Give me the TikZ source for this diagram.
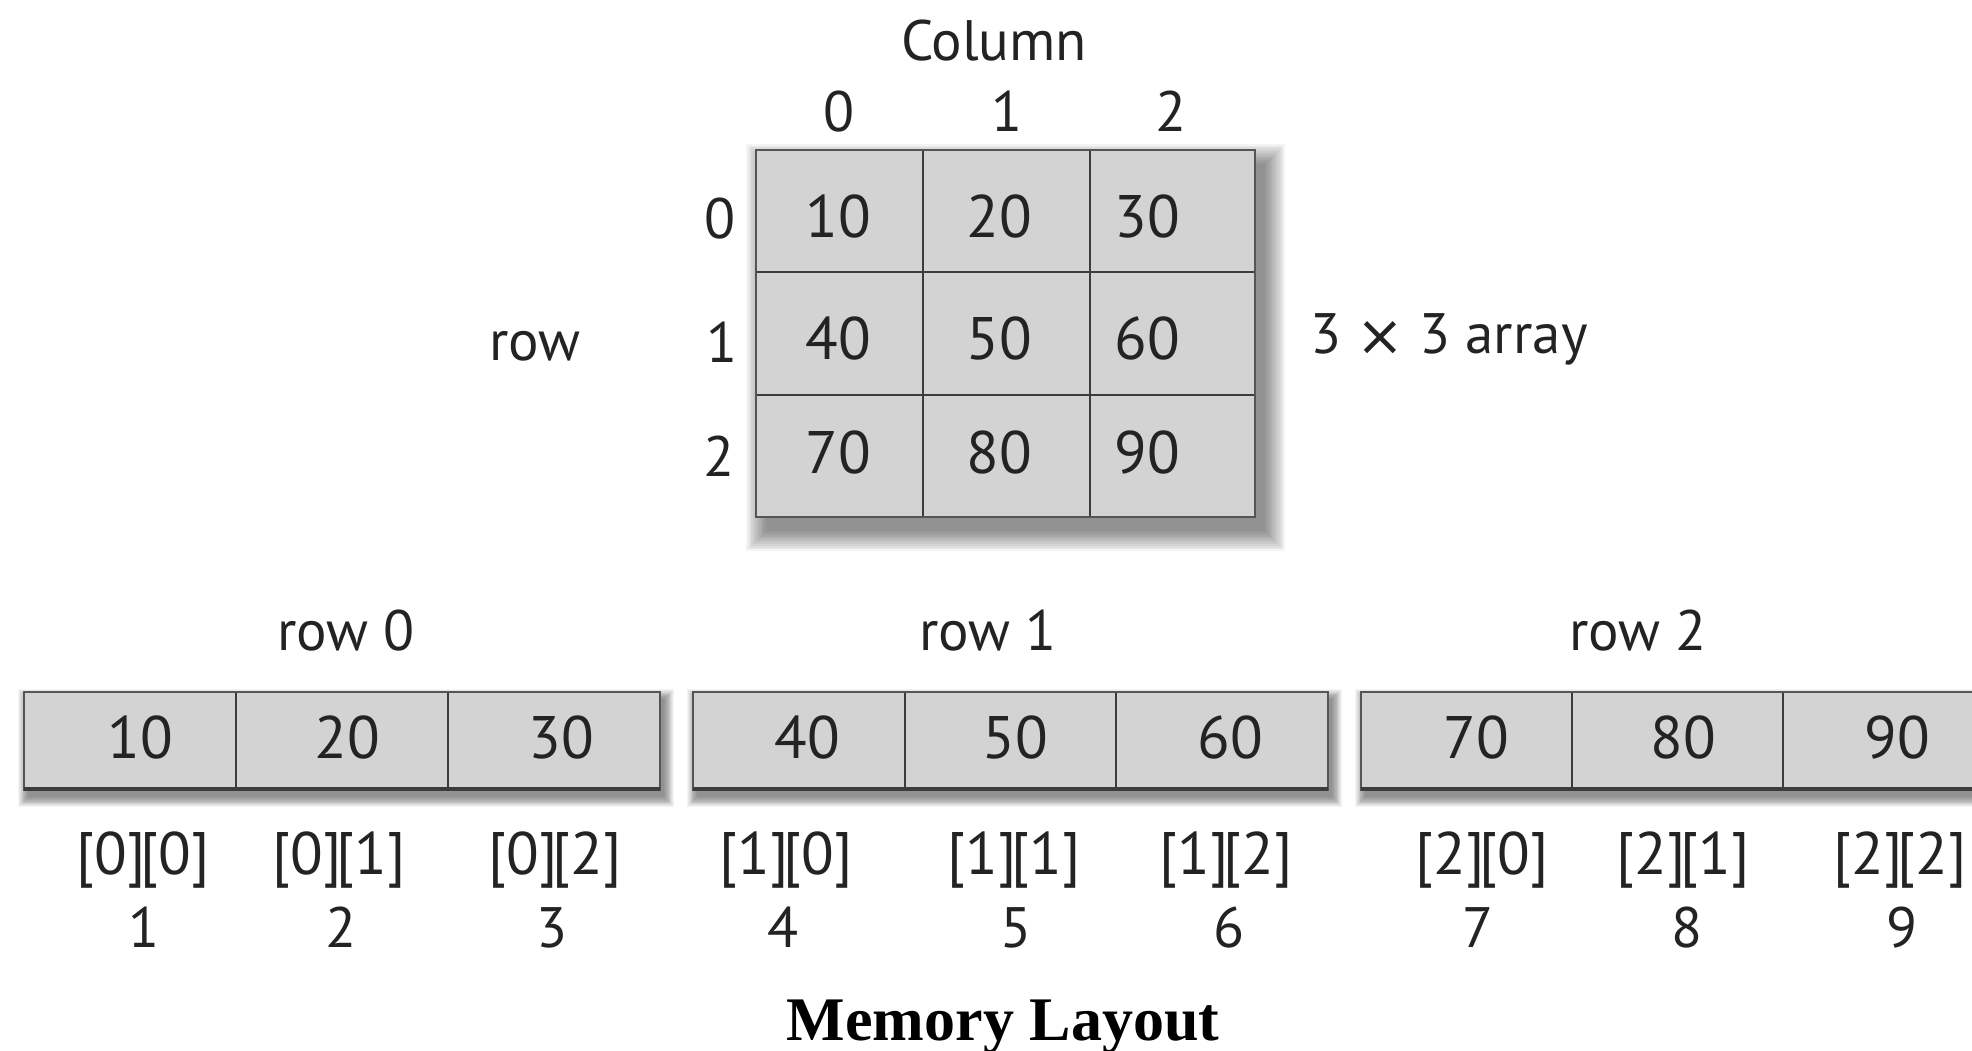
\documentclass[tikz,border=0pt]{standalone}
\usepackage{fontspec}
\setmainfont{PT Sans}
\newfontfamily\capfont{Liberation Serif}
\newfontfamily\symfont{DejaVu Sans}
\definecolor{cellfill}{RGB}{211,211,211}
\definecolor{borderc}{RGB}{85,85,85}
\definecolor{linec}{RGB}{60,60,60}
\definecolor{textc}{RGB}{35,35,35}
\newcommand\softshadow[7]{%
  \foreach \i in {1,...,12}{%
    \pgfmathsetmacro\rr{#7*(1-\i/12)}%
    \fill[black,opacity=0.045] ({#1+#5-\rr},{#2+#6-\rr}) rectangle ({#3+#5+\rr},{#4+#6+\rr});
  }}
\newcommand\ix[2]{[#1]\kern-5pt[#2]}
\begin{document}
\begin{tikzpicture}[x=1pt,y=-1pt,
  lbl/.style={anchor=base,inner sep=0pt,text=textc,font=\fontsize{57}{60}\selectfont},
  val/.style={lbl,font=\fontsize{60}{62}\selectfont},
  idx/.style={lbl,font=\fontsize{60}{62}\selectfont},
  titlecap/.style={anchor=base,inner sep=0pt,text=black,font=\capfont\bfseries\fontsize{62}{64}\selectfont},
  gridline/.style={draw=linec,line width=2pt},
  outerline/.style={draw=borderc,line width=2.2pt},
  bottomline/.style={draw=linec,line width=4pt}]
\path[use as bounding box,clip] (0,0) rectangle (1972,1051);
\fill[white] (0,0) rectangle (1972,1051);

% ---------- 3x3 grid ----------
\softshadow{756}{150}{1255}{517}{10}{14}{22}
\fill[cellfill] (756,150) rectangle (1255,517);
\draw[gridline] (923,150) -- (923,517) (1090,150) -- (1090,517)
                (756,272) -- (1255,272) (756,395) -- (1255,395);
\draw[outerline] (756,150) rectangle (1255,517);

\node[lbl] (column) at (994,61) {Column};
\node[lbl] (c0) at (839,132) {0};
\node[lbl] (c1) at (1007,132) {1};
\node[lbl] (c2) at (1171,132) {2};
\node[lbl] (r0) at (720,238) {0};
\node[lbl] (r1) at (722,362) {1};
\node[lbl] (r2) at (719,476) {2};
\node[lbl] (rowlbl) at (535,360) {row};
\node[lbl,anchor=base west] (arr) at (1310,353) {3 \raisebox{-2pt}{\symfont ×} 3 array};

\node[val] (g00) at (838,237) {10};
\node[val] (g01) at (999,237) {20};
\node[val] (g02) at (1147,237) {30};
\node[val] (g10) at (838,359) {40};
\node[val] (g11) at (999,359) {50};
\node[val] (g12) at (1147,359) {60};
\node[val] (g20) at (838,473) {70};
\node[val] (g21) at (999,473) {80};
\node[val] (g22) at (1147,473) {90};

% ---------- memory strips ----------
\foreach \xa/\xb/\xc/\xd in {24/236/448/660, 693/905/1116/1328, 1361/1572/1783/1994}{
  \softshadow{\xa}{692}{\xd}{790}{4}{7}{11}
  \fill[cellfill] (\xa,692) rectangle (\xd,790);
  \draw[gridline,line width=1.6pt] (\xb,692) -- (\xb,790) (\xc,692) -- (\xc,790);
  \draw[outerline,line width=1.8pt] (\xa,692) rectangle (\xd,790);
  \draw[bottomline] (\xa,789) -- (\xd,789);
}

\node[lbl] (row0) at (346,650) {row 0};
\node[lbl] (row1) at (988,650) {row 1};
\node[lbl] (row2) at (1638,650) {row 2};

\node[val] (m1) at (140,758) {10};
\node[val] (m2) at (347,758) {20};
\node[val] (m3) at (561,758) {30};
\node[val] (m4) at (807,758) {40};
\node[val] (m5) at (1015,758) {50};
\node[val] (m6) at (1230,758) {60};
\node[val] (m7) at (1476,758) {70};
\node[val] (m8) at (1683,758) {80};
\node[val] (m9) at (1897,758) {90};

\node[idx] (i1) at (143,874) {\ix{0}{0}};
\node[idx] (i2) at (339,874) {\ix{0}{1}};
\node[idx] (i3) at (555,874) {\ix{0}{2}};
\node[idx] (i4) at (786,874) {\ix{1}{0}};
\node[idx] (i5) at (1014,874) {\ix{1}{1}};
\node[idx] (i6) at (1226,874) {\ix{1}{2}};
\node[idx] (i7) at (1482,874) {\ix{2}{0}};
\node[idx] (i8) at (1683,874) {\ix{2}{1}};
\node[idx] (i9) at (1900,874) {\ix{2}{2}};

\node[lbl] (n1) at (144,947) {1};
\node[lbl] (n2) at (341,947) {2};
\node[lbl] (n3) at (552,947) {3};
\node[lbl] (n4) at (783,947) {4};
\node[lbl] (n5) at (1016,947) {5};
\node[lbl] (n6) at (1229,947) {6};
\node[lbl] (n7) at (1478,947) {7};
\node[lbl] (n8) at (1687,947) {8};
\node[lbl] (n9) at (1902,947) {9};

\node[titlecap] (title) at (1003,1040) {Memory Layout};
\end{tikzpicture}
\end{document}
